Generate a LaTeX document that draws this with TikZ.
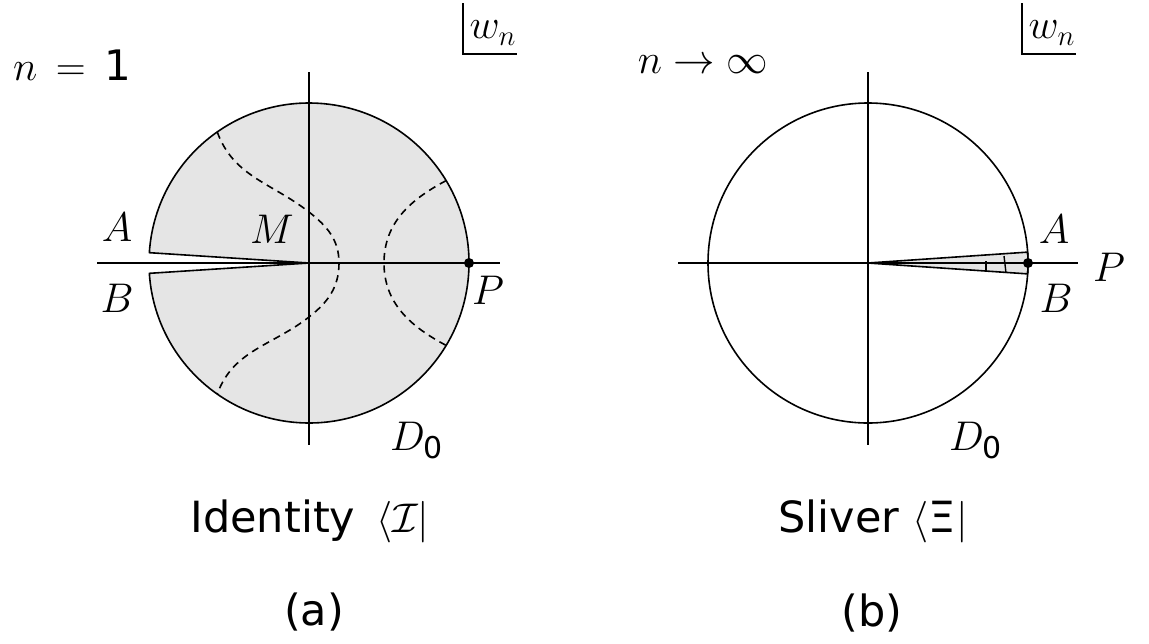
\documentclass[tikz,border=0pt]{standalone}
\usepackage{amssymb}
\usepackage[no-math]{fontspec}
\newfontfamily\vsans{DejaVu Sans}
\newcommand{\vsub}[1]{\mbox{\fontsize{15}{15}\selectfont\vsans #1}}
\begin{document}
\begin{tikzpicture}[x=0.5pt,y=0.5pt,
  every node/.style={font=\fontsize{21}{25}\selectfont, inner sep=0pt},
  sanslabel/.style={font=\fontsize{21.5}{25}\selectfont\vsans},
  diskline/.style={line width=0.8pt},
  diskfill/.style={line width=0.8pt, fill=black!10, line join=round},
  axisline/.style={line width=0.8pt},
  dashcurve/.style={line width=0.8pt, dash pattern=on 3.6pt off 2.6pt},
  tickline/.style={line width=0.7pt},
  pdot/.style={fill=black}]
\useasboundingbox (0,0) rectangle (1149,-643);

% ---------------- panel (a) ----------------
\coordinate (O1) at (309,-263);
\filldraw[diskfill] ([shift={(176.3:80pt)}]O1) coordinate (a1)
  arc[start angle=176.3, end angle=-176.3, radius=80pt] coordinate (b1)
  -- (O1) -- cycle;

\coordinate (s1) at ([shift={(125:80pt)}]O1);
\coordinate (s2) at (309,-212);
\coordinate (s3) at (339,-263);
\coordinate (s4) at (309,-317);
\coordinate (s5) at ([shift={(-125:80pt)}]O1);
\draw[dashcurve] (s1) to[out=-70,in=142] (s2) to[out=-38,in=90] (s3)
  to[out=-90,in=38] (s4) to[out=-142,in=70] (s5);

\coordinate (r1) at ([shift={(31:80pt)}]O1);
\coordinate (r2) at (384,-263);
\coordinate (r3) at ([shift={(-31:80pt)}]O1);
\draw[dashcurve] (r1) to[out=208,in=90] (r2) to[out=-90,in=152] (r3);

\coordinate (hl1) at (97,-263);
\coordinate (hr1) at (500,-263);
\coordinate (vt1) at (309,-72);
\coordinate (vb1) at (309,-445);
\draw[axisline] (hl1) -- (hr1);
\draw[axisline] (vt1) -- (vb1);
\coordinate (P1) at (469,-263);
\fill[pdot] (P1) circle[radius=2.5pt];

\node (labA1) at (117,-227) {$A$};
\node (labB1) at (117,-298) {$B$};
\node (labM1) at (272,-229) {$M$};
\node (labP1) at (488,-290) {$P$};
\node (labD1) at (417,-441) {$D_{\vsub{0}}$};
\node (labn1) at (72,-65) {$n \,=\, \mbox{\vsans 1}$};
\node (labw1) at (493,-33) {$w_n$};
\coordinate (wt1) at (463,-3);
\coordinate (wc1) at (463,-54);
\coordinate (we1) at (517,-54);
\draw[axisline] (wt1) -- (wc1) -- (we1);
\node[anchor=base, sanslabel] (cap1) at (310,-532) {Identity\ \,$\langle\mathcal{I}|$};
\node[sanslabel] (sub1) at (314,-612) {(a)};

% ---------------- panel (b) ----------------
\coordinate (O2) at (868,-263);
\filldraw[diskfill] (O2) -- ([shift={(3.9:80pt)}]O2) coordinate (a2)
  arc[start angle=3.9, end angle=-3.9, radius=80pt] coordinate (b2) -- cycle;
\draw[diskline] (O2) circle[radius=80pt];

\coordinate (t1a) at (986,-261);
\coordinate (t1b) at (986,-272);
\coordinate (t2a) at (1004,-256);
\coordinate (t2b) at (1006,-273);
\draw[tickline] (t1a) -- (t1b);
\draw[tickline] (t2a) -- (t2b);

\coordinate (hl2) at (678,-263);
\coordinate (hr2) at (1078,-263);
\coordinate (vt2) at (868,-72);
\coordinate (vb2) at (868,-445);
\draw[axisline] (hl2) -- (hr2);
\draw[axisline] (vt2) -- (vb2);
\coordinate (P2) at (1028,-263);
\fill[pdot] (P2) circle[radius=2.5pt];

\node (labA2) at (1054,-229) {$A$};
\node (labB2) at (1056,-298) {$B$};
\node (labP2) at (1109,-267) {$P$};
\node (labD2) at (976,-441) {$D_{\vsub{0}}$};
\node (labn2) at (703,-65) {$n \rightarrow \infty$};
\node (labw2) at (1052,-33) {$w_n$};
\coordinate (wt2) at (1022,-3);
\coordinate (wc2) at (1022,-54);
\coordinate (we2) at (1076,-54);
\draw[axisline] (wt2) -- (wc2) -- (we2);
\node[anchor=base, sanslabel] (cap2) at (873,-532) {Sliver $\langle$Ξ$|$};
\node[sanslabel] (sub2) at (872,-613) {(b)};
\end{tikzpicture}
\end{document}
